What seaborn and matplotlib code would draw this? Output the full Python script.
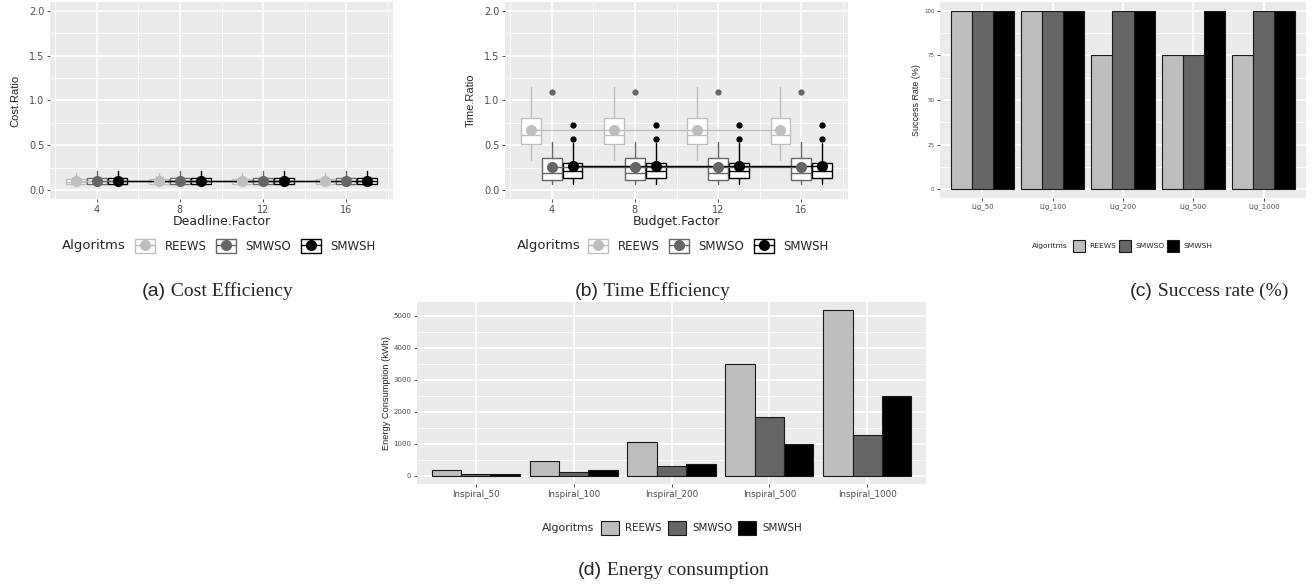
import matplotlib
matplotlib.use('Agg')
import matplotlib.pyplot as plt
import seaborn as sns
import pandas as pd
from matplotlib.lines import Line2D
from matplotlib.patches import Patch
from matplotlib.ticker import MultipleLocator
from matplotlib.legend_handler import HandlerTuple

# algorithms and colours
algos = ['REEWS', 'SMWSO', 'SMWSH']
colors = ['#BEBEBE', '#666666', '#000000']
factors = [4, 8, 12, 16]

# (a) cost ratio box stats per algorithm (same at every deadline factor)
cost_lo = [0.05, 0.05, 0.05]
cost_q1 = [0.07, 0.07, 0.07]
cost_med = [0.09, 0.10, 0.10]
cost_q3 = [0.12, 0.13, 0.13]
cost_hi = [0.19, 0.21, 0.21]
cost_mean = [0.10, 0.105, 0.105]
cost_out = [[], [], []]

# (b) time ratio box stats per algorithm (same at every budget factor)
time_lo = [0.33, 0.07, 0.07]
time_q1 = [0.51, 0.11, 0.14]
time_med = [0.61, 0.19, 0.21]
time_q3 = [0.81, 0.36, 0.30]
time_hi = [1.15, 0.54, 0.52]
time_mean = [0.67, 0.26, 0.265]
time_out = [[], [1.09], [0.57, 0.73]]

# (c) success rate
ligo = ['Lig_50', 'Lig_100', 'Lig_200', 'Lig_500', 'Lig_1000']
success_reews = [100, 100, 75, 75, 75]
success_smwso = [100, 100, 100, 75, 100]
success_smwsh = [100, 100, 100, 100, 100]

# (d) energy consumption
inspiral = ['Inspiral_50', 'Inspiral_100', 'Inspiral_200', 'Inspiral_500', 'Inspiral_1000']
energy_reews = [165, 458, 1050, 3480, 5165]
energy_smwso = [60, 125, 300, 1845, 1270]
energy_smwsh = [52, 165, 375, 990, 2480]

sns.set_theme(style='darkgrid', rc={
    'axes.facecolor': '#EBEBEB',
    'grid.color': 'white',
    'xtick.bottom': True,
    'ytick.left': True,
    'xtick.color': '#333333',
    'ytick.color': '#333333',
    'xtick.labelcolor': '#4D4D4D',
    'ytick.labelcolor': '#4D4D4D',
    'xtick.major.size': 2.5,
    'ytick.major.size': 2.5,
    'xtick.major.width': 0.6,
    'ytick.major.width': 0.6,
    'xtick.major.pad': 1.5,
    'ytick.major.pad': 1.5,
})
plt.rcParams['font.family'] = ['DejaVu Sans']
YLAB_FONT = ['Liberation Sans', 'DejaVu Sans']

W, H = 1313, 587
fig = plt.figure(figsize=(W / 100, H / 100), dpi=100)


def px_axes(l, t, r, b):
    return fig.add_axes([l / W, 1 - b / H, (r - l) / W, (b - t) / H])


def style(ax, xtick_fs, ytick_fs):
    for s in ax.spines.values():
        s.set_visible(False)
    ax.tick_params(axis='x', labelsize=xtick_fs)
    ax.tick_params(axis='y', labelsize=ytick_fs)
    ax.grid(True, which='major', color='white', lw=1.2)
    ax.grid(True, which='minor', color='white', lw=0.6)
    ax.tick_params(which='minor', length=0)


def box_panel(ax, lo, q1, med, q3, hi, mean, out, xlabel, ylabel):
    for k, c in enumerate(colors):
        pos = [f + (k - 1) for f in factors]
        stats = [dict(whislo=lo[k], q1=q1[k], med=med[k], q3=q3[k],
                      whishi=hi[k], fliers=out[k]) for f in factors]
        ax.bxp(stats, positions=pos, widths=0.95, showcaps=False, patch_artist=True,
               boxprops=dict(facecolor='white', edgecolor=c, linewidth=1.0),
               whiskerprops=dict(color=c, linewidth=1.0),
               medianprops=dict(color=c, linewidth=1.0),
               flierprops=dict(marker='o', markerfacecolor=c, markeredgecolor=c,
                               markersize=3.5),
               manage_ticks=False)
        ax.plot(pos, [mean[k] for f in factors], color=c, lw=1.0, zorder=3)
        ax.plot(pos, [mean[k] for f in factors], color=c, lw=0, marker='o',
                markersize=7, zorder=4)
    ax.set_xlim(1.75, 18.25)
    ax.set_ylim(-0.1, 2.1)
    ax.set_xticks(factors)
    ax.set_xticks([2, 6, 10, 14, 18], minor=True)
    ax.set_yticks([0, 0.5, 1.0, 1.5, 2.0])
    ax.set_yticklabels(['0.0', '0.5', '1.0', '1.5', '2.0'])
    ax.yaxis.set_minor_locator(MultipleLocator(0.25))
    style(ax, 7, 7)
    ax.set_xlabel(xlabel, fontsize=9, labelpad=0)
    ax.set_ylabel(ylabel, fontsize=8, labelpad=6, family=YLAB_FONT)


def bar_panel(ax, cats, vals, ylabel, xtick_fs, ytick_fs, lab_fs):
    df = pd.DataFrame({
        'Workflow': cats * 3,
        'Algorithm': [a for a in algos for _ in cats],
        'Value': vals[0] + vals[1] + vals[2],
    })
    sns.barplot(data=df, x='Workflow', y='Value', hue='Algorithm', palette=colors,
                saturation=1, edgecolor='#1a1a1a', linewidth=0.8, width=0.9, gap=0,
                legend=False, ax=ax)
    ax.set_xlim(-0.6, len(cats) - 0.4)
    style(ax, xtick_fs, ytick_fs)
    ax.set_xlabel('')
    ax.set_ylabel(ylabel, fontsize=lab_fs, labelpad=2, family=YLAB_FONT)


def legend_row(x_title, x_keys, y, handles, title_fs, text_fs, keylen, keyh,
               textpad, colspace, tuple_keys=False):
    fig.text(x_title / W, 1 - y / H, 'Algoritms', fontsize=title_fs, va='center', ha='left')
    kw = {}
    if tuple_keys:
        kw['handler_map'] = {tuple: HandlerTuple(ndivide=1)}
    fig.legend(handles, algos, loc='center left', bbox_to_anchor=(x_keys / W, 1 - y / H),
               ncol=3, frameon=False, fontsize=text_fs, borderpad=0, borderaxespad=0,
               handlelength=keylen, handleheight=keyh, handletextpad=textpad,
               columnspacing=colspace, **kw)


# (a) cost efficiency
ax_a = px_axes(50, 2, 393, 199)
box_panel(ax_a, cost_lo, cost_q1, cost_med, cost_q3, cost_hi, cost_mean, cost_out,
          'Deadline.Factor', 'Cost.Ratio')

# (b) time efficiency
ax_b = px_axes(505, 2, 848, 199)
box_panel(ax_b, time_lo, time_q1, time_med, time_q3, time_hi, time_mean, time_out,
          'Budget.Factor', 'Time.Ratio')

box_handles = [(Patch(facecolor='white', edgecolor=c, lw=1.0),
                Line2D([], [], color=c, marker='o', markersize=7, lw=1)) for c in colors]
legend_row(62, 135, 246, box_handles, 9.5, 8.5, 1.7, 1.4, 0.8, 0.8, tuple_keys=True)
legend_row(517, 588, 246, box_handles, 9.5, 8.5, 1.7, 1.4, 0.8, 0.8, tuple_keys=True)

# (c) success rate
ax_c = px_axes(940, 2, 1306, 198)
bar_panel(ax_c, ligo, [success_reews, success_smwso, success_smwsh],
          'Success Rate (%)', 5, 4, 6.4)
ax_c.set_ylim(-5, 105)
ax_c.set_yticks([0, 25, 50, 75, 100])
ax_c.yaxis.set_minor_locator(MultipleLocator(12.5))

bar_handles = [Patch(facecolor=c, edgecolor='#1a1a1a', lw=0.8) for c in colors]
legend_row(1032, 1073, 246, bar_handles, 5.4, 5.4, 1.6, 2.0, 0.6, 0.3)

# (d) energy consumption
ax_d = px_axes(417, 302, 926, 484)
bar_panel(ax_d, inspiral, [energy_reews, energy_smwso, energy_smwsh],
          'Energy Consumption (kWh)', 6.3, 5, 6.7)
ax_d.set_ylim(-258, 5425)
ax_d.set_yticks([0, 1000, 2000, 3000, 4000, 5000])
ax_d.yaxis.set_minor_locator(MultipleLocator(500))
legend_row(542, 601, 528, bar_handles, 7.8, 7.4, 1.75, 1.65, 0.6, 0.6)

# captions: sans "(x)" followed by serif text
renderer = fig.canvas.get_renderer()
captions = [('(a)', ' Cost Efficiency', 142, 296),
            ('(b)', ' Time Efficiency', 575, 296),
            ('(c)', ' Success rate (%)', 1130, 296),
            ('(d)', ' Energy consumption', 578, 575)]
for tag, rest, x0, yb in captions:
    t1 = fig.text(x0 / W, 1 - yb / H, tag, fontsize=14, va='baseline', ha='left',
                  family=['Liberation Sans', 'DejaVu Sans'], zorder=-1)
    bb = t1.get_window_extent(renderer)
    fig.text(bb.x1 / W, 1 - yb / H, rest, fontsize=14, va='baseline', ha='left',
             family=['Liberation Serif', 'DejaVu Serif'], zorder=-1)

fig.savefig('out.png', dpi=100)
